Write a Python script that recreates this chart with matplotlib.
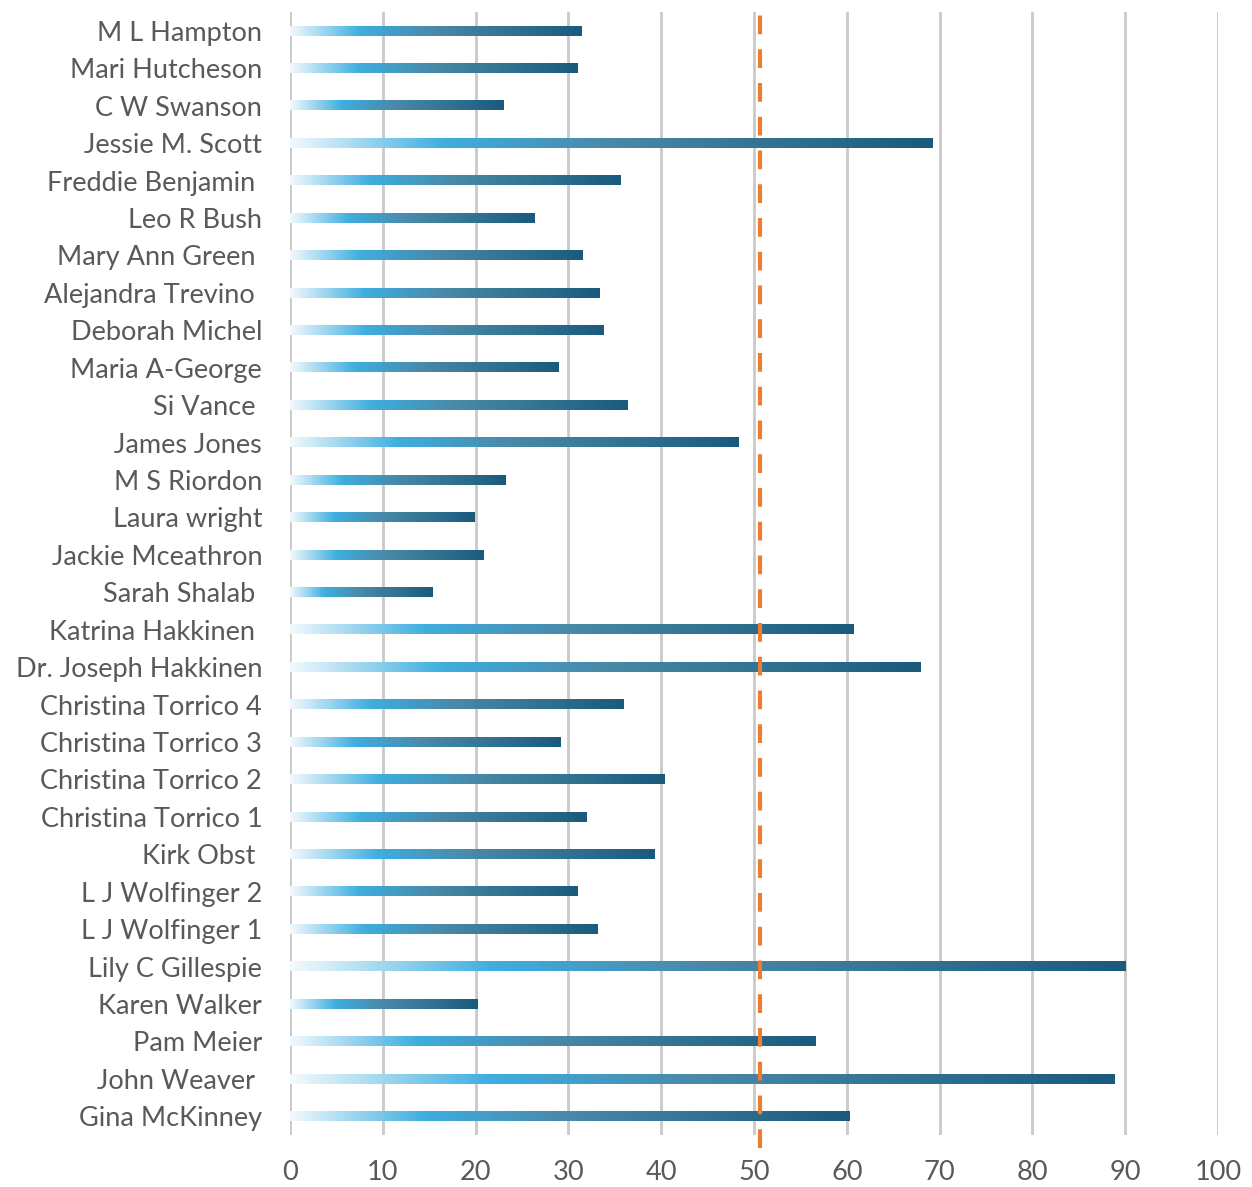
import numpy as np
import matplotlib
matplotlib.use('Agg')
import matplotlib.pyplot as plt
from matplotlib.colors import LinearSegmentedColormap

# data (top to bottom as shown)
names = ["M L Hampton", "Mari Hutcheson", "C W Swanson", "Jessie M. Scott",
         "Freddie Benjamin ", "Leo R Bush", "Mary Ann Green ", "Alejandra Trevino ",
         "Deborah Michel", "Maria A-George", "Si Vance ", "James Jones",
         "M S Riordon", "Laura wright", "Jackie Mceathron", "Sarah Shalab ",
         "Katrina Hakkinen ", "Dr. Joseph Hakkinen", "Christina Torrico 4",
         "Christina Torrico 3", "Christina Torrico 2", "Christina Torrico 1",
         "Kirk Obst ", "L J Wolfinger 2", "L J Wolfinger 1", "Lily C Gillespie",
         "Karen Walker", "Pam Meier", "John Weaver ", "Gina McKinney"]
values = [31.4, 31.0, 23.0, 69.2, 35.6, 26.3, 31.5, 33.4, 33.8, 28.9,
          36.4, 48.3, 23.2, 19.9, 20.9, 15.4, 60.7, 67.9, 35.9, 29.2,
          40.4, 32.0, 39.3, 31.0, 33.1, 90.0, 20.2, 56.6, 88.9, 60.3]
target = 50.6
xticks = [0, 10, 20, 30, 40, 50, 60, 70, 80, 90, 100]

plt.rcParams['font.family'] = ['Lato', 'DejaVu Sans']

fig = plt.figure(figsize=(12.52, 11.87), dpi=100)
ax = fig.add_axes([0.2316, 0.0438, 0.7412, 0.946])

# gradient: pale -> bright blue -> dark teal, relative to each bar's length
cmap = LinearSegmentedColormap.from_list(
    "bar", [(0.0, "#f2f9fd"), (0.24, "#3eaee0"), (0.5, "#4a88a8"), (1.0, "#1a5b7d")])
grad = np.linspace(0, 1, 256).reshape(1, -1)

ypos = np.arange(len(names))[::-1]
bars = ax.barh(ypos, values, height=0.25, color='none', zorder=2)
for b in bars:
    x0, y0 = b.get_x(), b.get_y()
    w, h = b.get_width(), b.get_height()
    ax.imshow(grad, cmap=cmap, extent=[x0, x0 + w, y0, y0 + h],
              aspect='auto', interpolation='bicubic', zorder=3)

ax.axvline(target, ymin=-0.012, ymax=1.006, color='#ed7d31', lw=3,
           dashes=(4.5, 3.6), zorder=4, clip_on=False)

ax.set_xlim(0, 100)
ax.set_ylim(-0.5, len(names) - 0.5)
ax.set_xticks(xticks)
ax.set_yticks(ypos)
ax.set_yticklabels(names)
ax.grid(axis='x', color='#c9c9c9', lw=2, zorder=0)
ax.set_axisbelow(True)
for s in ax.spines.values():
    s.set_visible(False)
ax.tick_params(axis='both', length=0, labelsize=19.5, labelcolor='#595959')
ax.tick_params(axis='y', pad=20)
ax.tick_params(axis='x', pad=18)

fig.savefig('out.png', dpi=100)
